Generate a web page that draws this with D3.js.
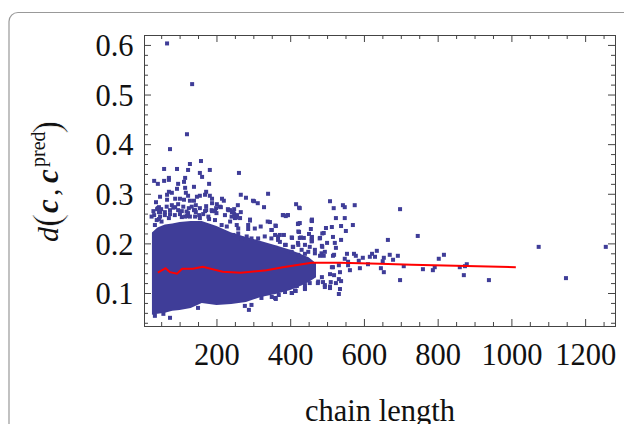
<!DOCTYPE html>
<html>
<head>
<meta charset="utf-8">
<script src="https://cdnjs.cloudflare.com/ajax/libs/d3/7.8.5/d3.min.js"></script>
<style>
body { margin: 0; background: #fff; }
svg { display: block; }
text { font-family: "Liberation Serif", serif; fill: #111; }
</style>
</head>
<body>
<script>
let x_ticks = [200, 400, 600, 800, 1000, 1200];
let x_minor = [50, 100, 150, 250, 300, 350, 450, 500, 550, 650, 700, 750, 850, 900, 950, 1050, 1100, 1150, 1250];
let y_ticks = [0.1, 0.2, 0.3, 0.4, 0.5, 0.6];
let y_minor = [0.04, 0.06, 0.08, 0.12, 0.14, 0.16, 0.18, 0.22, 0.24, 0.26, 0.28, 0.32, 0.34, 0.36, 0.38, 0.42, 0.44, 0.46, 0.48, 0.52, 0.54, 0.56, 0.58, 0.62];

// the points that can be told apart: [chain length, distance]
let points = [
    [66,.603],[134,.521],[120,.42],[74,.39],
    [158,.366],[128,.360],[58,.350],[93,.350],[123,.348],[155,.342],[182,.348],[261,.342],[161,.334],[115,.332],
    [31,.326],[71,.332],[71,.328],[58,.326],[41,.320],[96,.320],[112,.324],[180,.320],[139,.314],[115,.312],
    [93,.310],[71,.304],[79,.302],[66,.298],[117,.302],[123,.296],[172,.304],[169,.298],[155,.296],[266,.298],
    [47,.294],[182,.296],[280,.292],[299,.286],[215,.290],[220,.286],[188,.290],[188,.281],[36,.283],[66,.288],
    [88,.290],[101,.290],[112,.288],[128,.286],[139,.286],[147,.294],[201,.279],[258,.277],[79,.277],[96,.279],
    [144,.277],[172,.275],[212,.273],[231,.269],[44,.273],[39,.269],[50,.269],[88,.273],[199,.271],[237,.267],
    [248,.269],[242,.263],[266,.263],[44,.263],[60,.263],[74,.267],[106,.265],[125,.271],[139,.267],[172,.267],
    [188,.265],[196,.265],[31,.257],[74,.259],[101,.259],[123,.261],[144,.263],[153,.257],[120,.255],[248,.259],
    [44,.249],[71,.251],[106,.253],[180,.249],[250,.251],[264,.251],
    [29,.265],[41,.271],[47,.263],[65,.274],[83,.272],[96,.267],[110,.274],[119,.264],[133,.274],[142,.267],
    [155,.271],[169,.265],[187,.267],[209,.274],[232,.267],[246,.264],[237,.244],[255,.237],[259,.230],[38,.247],
    [51,.244],[60,.257],[87,.257],[115,.254],[128,.254],[142,.254],[155,.251],[178,.254],[196,.247],[214,.237],
    [228,.234],[33,.237],[246,.217],[259,.220],[24,.254],[47,.254],[164,.259],[200,.261],[223,.257],[241,.254],[256,.257],
    [253,.252],[291,.246],[339,.244],[381,.257],[393,.257],[424,.272],[422,.240],[458,.246],[286,.237],[286,.229],
    [304,.230],[320,.234],[349,.227],[360,.236],[422,.224],[487,.220],[404,.212],[429,.212],[458,.210],[480,.210],
    [268,.210],[282,.214],[295,.210],[313,.210],[331,.214],[349,.210],[367,.214],[367,.207],[386,.197],[408,.193],
    [422,.197],[458,.204],[487,.193],[431,.187],[449,.183],[467,.180],[485,.180],[404,.183],[422,.177],
    [295,.076],[322,.090],[359,.090],[404,.100],[413,.105],[440,.110],[476,.123],[494,.116],[508,.113],
    [340,.300],[302,.285],[312,.281],[329,.273],[416,.279],[426,.271],[508,.285],[518,.271],[543,.277],[548,.273],
    [575,.277],[380,.257],[394,.257],[388,.255],[524,.251],[548,.251],[459,.248],[291,.248],
    [698,.269],[513,.233],[497,.231],[538,.235],[570,.237],[551,.225],[491,.221],[516,.213],[481,.211],[538,.207],
    [665,.207],[746,.215],[500,.201],[521,.201],[486,.195],[524,.191],[1074,.193],[1256,.193],[494,.183],[491,.175],
    [516,.175],[554,.179],[573,.179],[578,.175],[597,.171],[635,.185],[622,.179],[616,.173],[630,.173],[670,.177],
    [692,.175],[654,.171],[651,.164],[679,.167],[548,.169],[557,.163],[586,.165],[611,.158],[803,.169],[817,.177],
    [879,.158],[874,.154],[860,.152],[792,.152],[760,.148],[787,.146],[708,.154],[589,.150],[646,.150],[562,.146],
    [654,.142],[535,.142],[698,.126],[871,.136],[939,.126],[1148,.130],[532,.098],[535,.108],[524,.120],[538,.124],
    [508,.110],[494,.112],[475,.120],[510,.122],[486,.132],[519,.136],[532,.128],[557,.156],[532,.156],[516,.152],
    [361,.235],[345,.243],[421,.239],[426,.241],[459,.245],[456,.229],[350,.227],[424,.223],[451,.219],[383,.217],
    [372,.217],[359,.217],[405,.211],[426,.211],[437,.211],[459,.213],[459,.205],[421,.201],[440,.197],[407,.193],
    [388,.197],[361,.191],[372,.203],[453,.193],[467,.187],[424,.173],[440,.179],[481,.175],[519,.177],[513,.152],
    [508,.138],[440,.108],[415,.104],[405,.100],[386,.102],[369,.096],[361,.088],[350,.092],[453,.120],[489,.122],
    [418,.114],[440,.116],[74,.050],[277,.074],[288,.066],[150,.070],[33,.054],[56,.058]
];

// the core of the cloud is solid colour, single points cannot be read there,
// so it is kept as the outline of the filled part
let core_length = [25, 40, 60, 80, 100, 130, 160, 200, 240, 280, 320, 360, 400, 430, 450, 470];
let core_low = [.056, .058, .060, .064, .066, .070, .080, .076, .078, .082, .092, .098, .106, .115, .122, .132];
let core_high = [.222, .232, .238, .240, .243, .245, .245, .235, .222, .213, .205, .196, .187, .178, .172, .160];

let mean_length = [41, 62, 74, 93, 107, 136, 163, 217, 266, 336, 380, 458, 535, 643, 730, 1012];
let mean_dist = [.141, .150, .142, .139, .149, .149, .153, .143, .141, .146, .152, .161, .161, .159, .157, .152];

let width = 624;
let height = 424;
let plot = { left: 144, right: 615, top: 35, bottom: 326 };

let svg = d3.select("body").append("svg")
    .attr("width", width)
    .attr("height", height);

// panel outline, runs off the picture to the right and at the bottom
svg.append("rect")
    .attr("x", 9)
    .attr("y", 12.5)
    .attr("width", 700)
    .attr("height", 600)
    .attr("rx", 9)
    .attr("fill", "none")
    .attr("stroke", "#999")
    .attr("stroke-width", 1.2);

let x = d3.scaleLinear().domain([3.45, 1281]).range([plot.left, plot.right]);
let y = d3.scaleLinear().domain([0.0335, 0.62]).range([plot.bottom, plot.top]);

let core = d3.range(core_length.length).map(i => ({ x: core_length[i], low: core_low[i], high: core_high[i] }));
svg.append("path")
    .datum(core)
    .attr("fill", "#3f3d98")
    .attr("d", d3.area().x(d => x(d.x)).y0(d => y(d.low)).y1(d => y(d.high)));

svg.selectAll("rect.pt")
    .data(points)
    .join("rect")
    .attr("class", "pt")
    .attr("x", d => x(d[0]) - 2)
    .attr("y", d => y(d[1]) - 2)
    .attr("width", 4)
    .attr("height", 4)
    .attr("fill", "#3f3d98");

svg.append("path")
    .datum(d3.range(mean_length.length))
    .attr("fill", "none")
    .attr("stroke", "#f00")
    .attr("stroke-width", 2)
    .attr("d", d3.line().x(i => x(mean_length[i])).y(i => y(mean_dist[i])));

function draw_axis(axis, tx, ty, labels){
    let g = svg.append("g").attr("transform", "translate(" + tx + "," + ty + ")").call(axis);
    g.selectAll("path, line").attr("stroke", "#444");
    if (labels) g.selectAll("text").style("font-size", "30.5px").attr("fill", "#111");
    else g.selectAll("text").remove();
    return g;
}

// major and minor ticks go inside on all four sides, labels only left and bottom
draw_axis(d3.axisBottom(x).tickValues(x_ticks).tickSize(-7).tickPadding(17).tickFormat(d3.format("d")), 0, plot.bottom, true);
draw_axis(d3.axisBottom(x).tickValues(x_minor).tickSize(-4).tickSizeOuter(0), 0, plot.bottom, false);
draw_axis(d3.axisTop(x).tickValues(x_ticks).tickSize(-7), 0, plot.top, false);
draw_axis(d3.axisTop(x).tickValues(x_minor).tickSize(-4).tickSizeOuter(0), plot.top === 0 ? 0 : 0, plot.top, false);

let y_axis = draw_axis(d3.axisLeft(y).tickValues(y_ticks).tickSize(-7).tickPadding(10.5).tickFormat(d3.format(".1f")), plot.left, 0, true);
y_axis.selectAll("text").attr("dy", "0.35em");
draw_axis(d3.axisLeft(y).tickValues(y_minor).tickSize(-4).tickSizeOuter(0), plot.left, 0, false);
draw_axis(d3.axisRight(y).tickValues(y_ticks).tickSize(-7), plot.right, 0, false);
draw_axis(d3.axisRight(y).tickValues(y_minor).tickSize(-4).tickSizeOuter(0), plot.right, 0, false);

svg.append("text")
    .attr("x", 380)
    .attr("y", 421)
    .attr("text-anchor", "middle")
    .style("font-size", "30.5px")
    .text("chain length");

// the pieces of the y label are set one by one, along the rotated baseline
let y_label = svg.append("g").attr("transform", "translate(58,240) rotate(-90)");
function label_piece(str, along, across, size, italic, bold, thin){
    let t = y_label.append("text")
        .attr("x", along)
        .attr("y", across)
        .style("font-size", size + "px")
        .style("font-style", italic ? "italic" : "normal")
        .style("font-weight", bold ? "bold" : "normal")
        .text(str);
    // the tall parentheses are drawn thin in the reference
    if (thin) t.attr("stroke", "#fff").attr("stroke-width", 0.7);
}
label_piece("d", -2, 0, 30, true, false, false);
label_piece("(", 13, 2, 40, false, false, true);
label_piece("c", 27, 0, 31, true, true, false);
label_piece(",", 44, 0, 30, false, false, false);
label_piece("c", 57, 0, 31, true, true, false);
label_piece("pred", 73, -13, 20, false, false, false);
label_piece(")", 106, 2, 40, false, false, true);
</script>
</body>
</html>
